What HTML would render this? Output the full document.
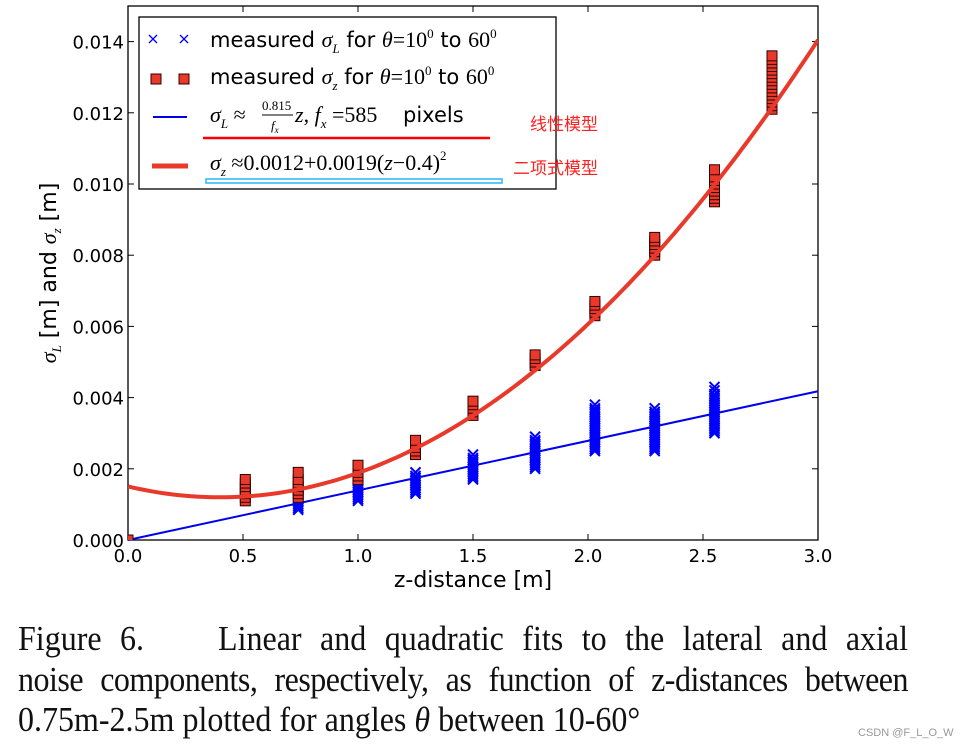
<!DOCTYPE html>
<html><head><meta charset="utf-8"><style>
body{margin:0;background:#fff;width:972px;height:750px;overflow:hidden;position:relative;font-family:"DejaVu Sans",sans-serif}
svg{position:absolute;left:0;top:0}
.cap{position:absolute;left:18px;width:890px;font-family:"Liberation Serif",serif;font-size:32px;color:#111;text-align:justify;text-align-last:justify;white-space:nowrap;line-height:34px;transform-origin:0 0;transform:scaleY(1.08)}
</style></head><body>
<svg id="chart" width="972" height="620" xmlns="http://www.w3.org/2000/svg"></svg>
<div class="cap" style="top:620px">Figure 6.&nbsp;&nbsp;&nbsp; Linear and quadratic fits to the lateral and axial</div>
<div class="cap" style="top:661px;letter-spacing:-0.5px">noise components, respectively, as function of z-distances between</div>
<div class="cap" style="top:701px;text-align-last:left;width:auto">0.75m-2.5m plotted for angles <i>θ</i> between 10-60°</div>
<div style="position:absolute;left:858px;top:727px;font-size:11px;color:#999;font-family:'Liberation Sans',sans-serif">CSDN @F_L_O_W</div>
<script>
const xTicks=[0,0.5,1.0,1.5,2.0,2.5,3.0];
const yTicks=[0,0.002,0.004,0.006,0.008,0.010,0.012,0.014];
const lZ=[0.74,1.0,1.25,1.5,1.77,2.03,2.29,2.55];
const lVals=[[0.00085,0.0009,0.00095,0.0010,0.00105,0.0011,0.00115,0.0012,0.00125,0.0013],[0.0011,0.00115,0.0012,0.00125,0.0013,0.00135,0.0014,0.00145,0.0015,0.00155,0.0016,0.00165,0.0017,0.00175,0.0018,0.0019],[0.0013,0.00135,0.0014,0.00145,0.0015,0.00155,0.0016,0.00165,0.0017,0.00175,0.0018,0.0019],[0.0017,0.00175,0.0018,0.00185,0.0019,0.00195,0.0020,0.00205,0.0021,0.00215,0.0022,0.00225,0.0023,0.0024],[0.0020,0.00205,0.0021,0.00215,0.0022,0.00225,0.0023,0.00235,0.0024,0.00245,0.0025,0.00255,0.0026,0.00265,0.0027,0.00275,0.0028,0.0029],[0.0025,0.00255,0.0026,0.00265,0.0027,0.00275,0.0028,0.00285,0.0029,0.00295,0.0030,0.00305,0.0031,0.00315,0.0032,0.00325,0.0033,0.00335,0.0034,0.00345,0.0035,0.00355,0.0036,0.00365,0.0037,0.0038],[0.0025,0.00255,0.0026,0.00265,0.0027,0.00275,0.0028,0.00285,0.0029,0.00295,0.0030,0.00305,0.0031,0.00315,0.0032,0.00325,0.0033,0.00335,0.0034,0.00345,0.0035,0.00355,0.0036,0.0037],[0.0030,0.00305,0.0031,0.00315,0.0032,0.00325,0.0033,0.00335,0.0034,0.00345,0.0035,0.00355,0.0036,0.00365,0.0037,0.00375,0.0038,0.00385,0.0039,0.00395,0.0040,0.00405,0.0041,0.0042,0.0043]];
const sZ=[0.0,0.51,0.74,1.0,1.25,1.5,1.77,2.03,2.29,2.55,2.8];
const sVals=[[0.0],[0.0011,0.0012,0.0013,0.0014,0.0015,0.0016,0.0017],[0.0012,0.0013,0.0014,0.0015,0.0016,0.0017,0.0019],[0.0017,0.0018,0.0019,0.0020,0.0021],[0.0024,0.0025,0.0026,0.0027,0.0028],[0.0035,0.0036,0.0037,0.0038,0.0039],[0.0049,0.0050,0.0051,0.0052],[0.0063,0.0064,0.0065,0.0066,0.0067],[0.0080,0.0081,0.0082,0.0083,0.0084,0.0085],[0.0095,0.0096,0.0097,0.0098,0.0099,0.0100,0.0101,0.0102,0.0104],[0.0121,0.0122,0.0123,0.0124,0.0125,0.0126,0.0127,0.0128,0.0129,0.0130,0.0131,0.0132,0.0133,0.0134,0.0135,0.0136]];
const linCoef=0.815/585;
const quadA=0.0012, quadB=0.0019, quadC=0.4;

const L=128,R=818,T=6,B=540,xMax=3,yMax=0.015;
const X=v=>L+(R-L)*v/xMax, Y=v=>B-(B-T)*v/yMax;
const svg=document.getElementById('chart'),NS='http://www.w3.org/2000/svg';
function mk(t,a,p){const e=document.createElementNS(NS,t);for(const k in a)e.setAttribute(k,a[k]);(p||svg).appendChild(e);return e;}
let fr=mk('rect',{x:L,y:T,width:R-L,height:B-T,fill:'none',stroke:'#000','stroke-width':1.3});


xTicks.forEach(v=>{
 mk('line',{x1:X(v),x2:X(v),y1:B,y2:B-6,stroke:'#000'});mk('line',{x1:X(v),x2:X(v),y1:T,y2:T+6,stroke:'#000'});
 const t=mk('text',{x:X(v),y:B+22,'text-anchor':'middle','font-size':18,fill:'#000'});t.textContent=v.toFixed(1);
 
 
});
yTicks.forEach(v=>{
 mk('line',{x1:L,x2:L+6,y1:Y(v),y2:Y(v),stroke:'#000'});mk('line',{x1:R,x2:R-6,y1:Y(v),y2:Y(v),stroke:'#000'});
 const t=mk('text',{x:L-4,y:Y(v)+7,'text-anchor':'end','font-size':18,fill:'#000'});t.textContent=v.toFixed(3);
 
 
});
let xt=mk('text',{x:(L+R)/2,y:587,'text-anchor':'middle','font-size':22});xt.textContent='z-distance [m]';


let yt=mk('text',{x:0,y:0,'text-anchor':'middle','font-size':22,transform:'translate(56,273) rotate(-90)'});
yt.innerHTML='<tspan font-family="Liberation Serif" font-style="italic">σ</tspan><tspan font-size="13" dy="5" font-family="Liberation Serif" font-style="italic">L</tspan><tspan dy="-5">  [m] and </tspan><tspan font-family="Liberation Serif" font-style="italic">σ</tspan><tspan font-size="13" dy="5" font-family="Liberation Serif" font-style="italic">z</tspan><tspan dy="-5">  [m]</tspan>';


const cp=mk('clipPath',{id:'cp'});mk('rect',{x:L,y:T,width:R-L,height:B-T},cp);
const gL=mk('g',{'clip-path':'url(#cp)'});


lZ.forEach((z,i)=>lVals[i].forEach(v=>{
 const x=X(z),y=Y(v),s=5;
 const p=mk('path',{d:`M${x-s} ${y-s}L${x+s} ${y+s}M${x-s} ${y+s}L${x+s} ${y-s}`,stroke:'#0000ff','stroke-width':2},gL);
 
 
}));
let ll=mk('line',{x1:X(0),y1:Y(0),x2:X(3),y2:Y(linCoef*3),stroke:'#0000ee','stroke-width':2});


const gS=mk('g',{'clip-path':'url(#cp)'});


sZ.forEach((z,i)=>sVals[i].forEach(v=>{
 const r=mk('rect',{x:X(z)-5,y:Y(v)-5,width:10,height:10,fill:'#e8392b',stroke:'#300','stroke-width':1},gS);
 
 
}));
let d='';for(let i=0;i<=120;i++){const z=3*i/120;d+=(i?'L':'M')+X(z).toFixed(1)+' '+Y(quadA+quadB*(z-quadC)**2).toFixed(1);}
let qc=mk('path',{d,fill:'none',stroke:'#e8392b','stroke-width':4,'clip-path':'url(#cp)'});


const lg=mk('g',{});


mk('rect',{x:139,y:17,width:417,height:172,fill:'#fff',stroke:'#000','stroke-width':1.3},lg);
[[153,39],[184,39]].forEach(([x,y])=>mk('path',{d:`M${x-4} ${y-4}L${x+4} ${y+4}M${x-4} ${y+4}L${x+4} ${y-4}`,stroke:'#0000ff','stroke-width':1.3},lg));
[156,184].forEach(x=>mk('rect',{x:x-5,y:74,width:10,height:10,fill:'#e8392b',stroke:'#300'},lg));
mk('line',{x1:153,x2:187,y1:117,y2:117,stroke:'#0000ee','stroke-width':2},lg);
mk('line',{x1:152,x2:188,y1:166,y2:166,stroke:'#e8392b','stroke-width':5},lg);
const S='font-family="Liberation Serif"';
const leg=[[47,`measured <tspan ${S} font-style="italic" font-size="22">σ</tspan><tspan font-size="13" dy="6" ${S} font-style="italic">L</tspan><tspan dy="-6">  for </tspan><tspan ${S} font-style="italic" font-size="22">θ</tspan><tspan ${S} font-size="22">=10</tspan><tspan font-size="13" dy="-9" ${S}>0</tspan><tspan dy="9">  to </tspan><tspan ${S} font-size="22">60</tspan><tspan font-size="13" dy="-9" ${S}>0</tspan>`],
[84,`measured <tspan ${S} font-style="italic" font-size="22">σ</tspan><tspan font-size="13" dy="6" ${S} font-style="italic">z</tspan><tspan dy="-6"> for </tspan><tspan ${S} font-style="italic" font-size="22">θ</tspan><tspan ${S} font-size="22">=10</tspan><tspan font-size="13" dy="-9" ${S}>0</tspan><tspan dy="9">  to </tspan><tspan ${S} font-size="22">60</tspan><tspan font-size="13" dy="-9" ${S}>0</tspan>`]];
leg.forEach(([y,h])=>{const t=mk('text',{x:210,y,'font-size':21,fill:'#000'},lg);t.innerHTML=h;
 
 });
const e3=mk('g',{},lg);


function tx(x,y,s,h,extra){const t=mk('text',Object.assign({x,y,'font-size':s,'font-family':'Liberation Serif'},extra||{}),e3);t.innerHTML=h;return t;}
tx(210,122,22,'<tspan font-style="italic">σ</tspan><tspan font-size="13" dy="6" font-style="italic">L</tspan><tspan dy="-6"> ≈</tspan>');
tx(262,110,13,'0.815');mk('line',{x1:262,x2:293,y1:115,y2:115,stroke:'#000','stroke-width':1},e3);
tx(271,130,13,'<tspan font-style="italic">f</tspan><tspan font-size="9" dy="3" font-style="italic">x</tspan>');
tx(295,122,22,'<tspan font-style="italic">z</tspan>, <tspan font-style="italic">f</tspan><tspan font-size="13" dy="6" font-style="italic">x</tspan><tspan dy="-6"> =585</tspan>');
tx(403,122,21,'pixels',{'font-family':'DejaVu Sans'});
const t4=mk('text',{x:210,y:170,'font-size':22,'font-family':'Liberation Serif'},lg);
t4.innerHTML='<tspan font-style="italic">σ</tspan><tspan font-size="13" dy="6" font-style="italic">z</tspan><tspan dy="-6"> ≈0.0012+0.0019(</tspan><tspan font-style="italic">z</tspan>−0.4)<tspan font-size="13" dy="-10">2</tspan>';


mk('line',{x1:203,x2:490,y1:138,y2:138,stroke:'#ff0000','stroke-width':2.5});
mk('rect',{x:206,y:179,width:296,height:4,fill:'none',stroke:'#29b6f6','stroke-width':1.5});
let a1=mk('text',{x:530,y:130,'font-size':17,fill:'#ff2020','font-family':'Noto Sans CJK SC, sans-serif'});a1.textContent='线性模型';


let a2=mk('text',{x:513,y:174,'font-size':17,fill:'#ff2020','font-family':'Noto Sans CJK SC, sans-serif'});a2.textContent='二项式模型';


</script>
</body></html>
